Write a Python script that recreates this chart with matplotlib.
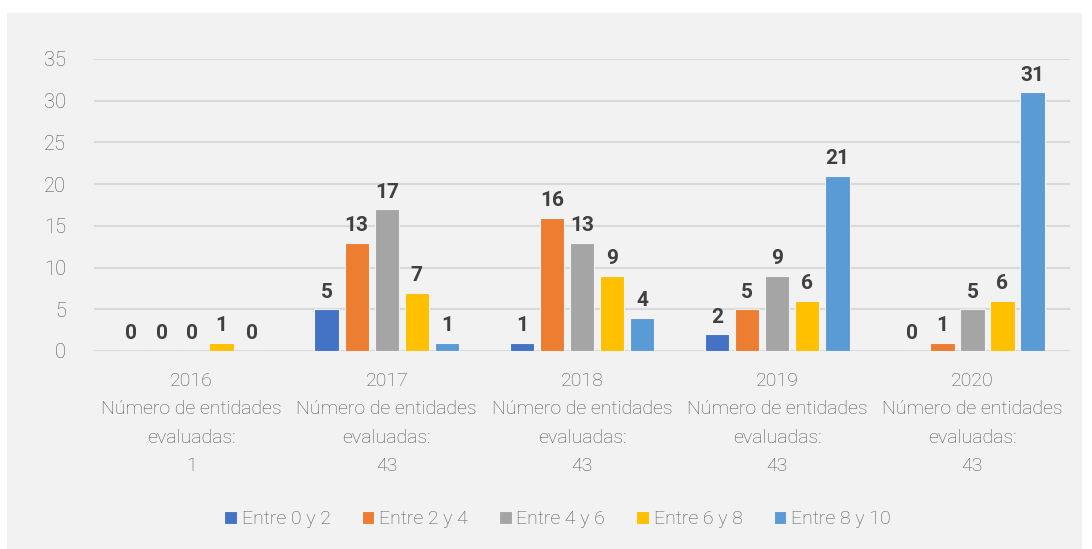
import numpy as np
import matplotlib.pyplot as plt
from matplotlib.patches import Rectangle

years = ["2016", "2017", "2018", "2019", "2020"]
evaluated = [1, 43, 43, 43, 43]
series = ["Entre 0 y 2", "Entre 2 y 4", "Entre 4 y 6", "Entre 6 y 8", "Entre 8 y 10"]
v_0_2 = [0, 5, 1, 2, 0]
v_2_4 = [0, 13, 16, 5, 1]
v_4_6 = [0, 17, 13, 9, 5]
v_6_8 = [1, 7, 9, 6, 6]
v_8_10 = [0, 1, 4, 21, 31]
values = [v_0_2, v_2_4, v_4_6, v_6_8, v_8_10]
colors = ["#4472c4", "#ed7d31", "#a5a5a5", "#ffc000", "#5b9bd5"]

plt.rcParams['font.family'] = ['Roboto', 'DejaVu Sans']

fig = plt.figure(figsize=(10.92, 5.49), dpi=100)
# grey panel behind the chart
fig.patches.append(Rectangle((7 / 1092, 0), 1 - 7 / 1092 - 10 / 1092, 1 - 13 / 549,
                             transform=fig.transFigure, facecolor="#f2f2f2",
                             edgecolor="none", zorder=-10))
ax = fig.add_axes([94 / 1092, 1 - 351 / 549, (1070 - 94) / 1092, (351 - 59) / 549])
ax.set_facecolor("none")

x = np.arange(len(years))
step = 0.154
width = 0.125
for i, (name, vals, c) in enumerate(zip(series, values, colors)):
    pos = x + (i - 2) * step
    ax.bar(pos, vals, width, color=c, edgecolor="#f2f2f2", linewidth=0.8,
           label=name, zorder=3)
    for px, v in zip(pos, vals):
        ax.text(px, v + 0.9, str(v), ha="center", va="bottom", fontsize=15,
                fontweight="bold", color="#404040")

ax.set_xlim(-0.5, 4.5)
ax.set_ylim(0, 35)
ax.set_yticks(range(0, 36, 5))
ax.grid(axis="y", color="#d9d9d9", linewidth=1.5, zorder=0)
for s in ax.spines.values():
    s.set_visible(False)
ax.tick_params(axis="both", length=0, labelsize=14, labelcolor="#555555")
ax.tick_params(axis="y", labelsize=14.5, pad=20)
ax.set_xticks(x)
ax.set_xticklabels([f"{y}\nNúmero de entidades\nevaluadas:\n{n}"
                    for y, n in zip(years, evaluated)], linespacing=1.75)
for t in ax.get_xticklabels():
    t.set_fontweight("light")
for t in ax.get_yticklabels():
    t.set_fontweight("light")
ax.tick_params(axis="x", pad=15)

ax.legend(loc="center", bbox_to_anchor=(0.475, -0.575), ncol=5, frameon=False,
          labelcolor="#555555", handlelength=0.65, handleheight=0.65,
          handletextpad=0.25, columnspacing=1.6,
          prop={"weight": "light", "size": 14})

fig.savefig("out.png", dpi=100)
